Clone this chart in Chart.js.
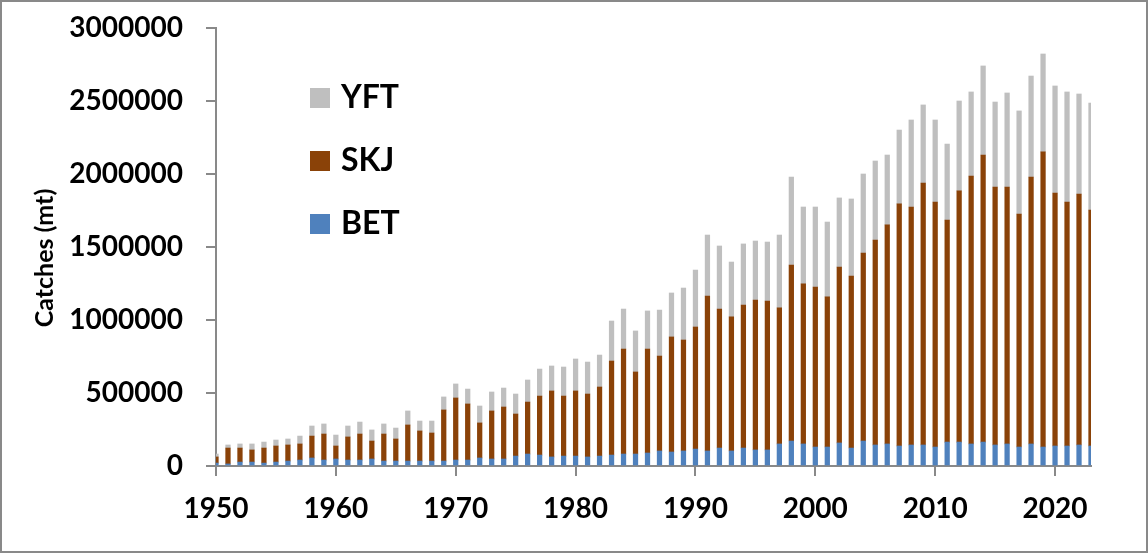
<!DOCTYPE html>
<html>
<head>
<meta charset="utf-8">
<script src="https://cdn.jsdelivr.net/npm/chart.js@4.4.1/dist/chart.umd.min.js"></script>
<style>
  html, body { margin: 0; padding: 0; background: #fff; }
  #wrap { position: relative; width: 1148px; height: 553px; }
</style>
</head>
<body>
<div id="wrap"><canvas id="catchChart"></canvas></div>
<script>
// Catches by species, 1950-2023 (mt)
var years = [1950, 1951, 1952, 1953, 1954, 1955, 1956, 1957, 1958, 1959,
             1960, 1961, 1962, 1963, 1964, 1965, 1966, 1967, 1968, 1969,
             1970, 1971, 1972, 1973, 1974, 1975, 1976, 1977, 1978, 1979,
             1980, 1981, 1982, 1983, 1984, 1985, 1986, 1987, 1988, 1989,
             1990, 1991, 1992, 1993, 1994, 1995, 1996, 1997, 1998, 1999,
             2000, 2001, 2002, 2003, 2004, 2005, 2006, 2007, 2008, 2009,
             2010, 2011, 2012, 2013, 2014, 2015, 2016, 2017, 2018, 2019,
             2020, 2021, 2022, 2023];

var bet = [20000, 14000, 27000, 27000, 20000, 27000, 34000, 41000, 55000, 41000,
           48000, 41000, 41000, 48000, 34000, 34000, 34000, 34000, 34000, 34000,
           41000, 41000, 55000, 48000, 48000, 68000, 82000, 75000, 62000, 68000,
           68000, 62000, 68000, 75000, 82000, 82000, 89000, 103000, 96000, 103000,
           116000, 103000, 123000, 103000, 123000, 110000, 110000, 151000, 171000, 151000,
           130000, 130000, 158000, 123000, 171000, 144000, 151000, 137000, 144000, 144000,
           130000, 164000, 164000, 151000, 164000, 144000, 151000, 130000, 151000, 130000,
           137000, 137000, 144000, 137000];

var skj = [42000, 109000, 96000, 83000, 103000, 110000, 110000, 110000, 150000, 178000,
           89000, 158000, 178000, 123000, 185000, 151000, 247000, 206000, 192000, 350000,
           425000, 384000, 240000, 329000, 356000, 288000, 356000, 404000, 452000, 411000,
           446000, 431000, 473000, 644000, 719000, 562000, 712000, 650000, 788000, 760000,
           836000, 1061000, 952000, 918000, 980000, 1027000, 1020000, 932000, 1206000, 1096000,
           1096000, 1028000, 1205000, 1178000, 1288000, 1404000, 1500000, 1658000, 1630000, 1794000,
           1678000, 1521000, 1720000, 1835000, 1966000, 1767000, 1760000, 1596000, 1828000, 2021000,
           1733000, 1671000, 1719000, 1616000];

var yft = [20000, 21000, 28000, 41000, 41000, 41000, 41000, 54000, 69000, 69000,
           75000, 75000, 82000, 76000, 69000, 75000, 96000, 68000, 82000, 89000,
           96000, 102000, 116000, 130000, 130000, 137000, 151000, 185000, 171000, 199000,
           219000, 219000, 219000, 274000, 274000, 281000, 261000, 315000, 301000, 356000,
           390000, 418000, 432000, 376000, 418000, 404000, 404000, 499000, 602000, 527000,
           548000, 513000, 473000, 528000, 541000, 541000, 479000, 506000, 596000, 535000,
           562000, 520000, 616000, 576000, 610000, 582000, 644000, 706000, 692000, 671000,
           733000, 754000, 685000, 733000];

var yMin = 0;
var yMax = 3000000;
var yStep = 500000;

var axisGray = '#898989';
var fontFamily = 'Lato, "Noto Sans", sans-serif';

// frame, custom legend and the axis title
var decorPlugin = {
    id: 'decor',
    beforeDraw: function (chart) {
        var ctx = chart.ctx;
        ctx.save();
        ctx.fillStyle = '#fff';
        ctx.fillRect(0, 0, chart.width, chart.height);
        ctx.strokeStyle = axisGray;
        ctx.lineWidth = 2;
        ctx.strokeRect(1, 1, chart.width - 2, chart.height - 2);
        ctx.restore();
    },
    afterDraw: function (chart) {
        var ctx = chart.ctx;
        var area = chart.chartArea;
        ctx.save();

        // legend, top item is the top of the stack
        var sets = chart.data.datasets.slice().reverse();
        ctx.font = 'bold 32px ' + fontFamily;
        ctx.textBaseline = 'middle';
        ctx.textAlign = 'left';
        for (var i = 0; i < sets.length; i++) {
            var cy = area.top + 70 + i * 63;
            ctx.fillStyle = sets[i].backgroundColor;
            ctx.fillRect(area.left + 94, cy - 10, 20, 20);
            ctx.fillStyle = '#000';
            ctx.fillText(sets[i].label, area.left + 125, cy);
        }

        // y axis title
        ctx.translate(45, (area.top + area.bottom) / 2 + 11);
        ctx.rotate(-Math.PI / 2);
        ctx.font = 'bold 25px ' + fontFamily;
        ctx.textAlign = 'center';
        ctx.fillText('Catches (mt)', 0, 0);
        ctx.restore();
    }
};

var ctx = document.getElementById('catchChart').getContext('2d');
var catchChart = new Chart(ctx, {
    type: 'bar',
    data: {
        labels: years,
        datasets: [
            { label: 'BET', data: bet, backgroundColor: '#4F81BD' },
            { label: 'SKJ', data: skj, backgroundColor: '#8A4208' },
            { label: 'YFT', data: yft, backgroundColor: '#BFBFBF' }
        ]
    },
    options: {
        responsive: true,
        maintainAspectRatio: false,
        animation: false,
        barThickness: 4.6,
        layout: {
            padding: { left: 0, top: 28, right: 57, bottom: 0 }
        },
        plugins: {
            legend: { display: false },
            tooltip: { enabled: false }
        },
        scales: {
            x: {
                type: 'category',
                stacked: true,
                offset: false,
                grid: {
                    offset: false,
                    drawOnChartArea: false,
                    tickLength: 10,
                    lineWidth: 2,
                    color: function (c) {
                        return years[c.index] % 10 === 0 ? axisGray : 'rgba(0,0,0,0)';
                    }
                },
                border: { color: axisGray, width: 2 },
                ticks: {
                    autoSkip: false,
                    maxRotation: 0,
                    minRotation: 0,
                    padding: 16,
                    color: '#000',
                    font: { family: fontFamily, size: 28, weight: 'bold' },
                    callback: function (val, index) {
                        return years[index] % 10 === 0 ? String(years[index]) : '';
                    }
                },
                afterFit: function (scale) {
                    scale.height = 87;
                }
            },
            y: {
                stacked: true,
                min: yMin,
                max: yMax,
                grid: {
                    drawOnChartArea: false,
                    tickLength: 10,
                    lineWidth: 2,
                    color: axisGray
                },
                border: { color: axisGray, width: 2 },
                ticks: {
                    stepSize: yStep,
                    padding: 23,
                    color: '#000',
                    font: { family: fontFamily, size: 28, weight: 'bold' },
                    callback: function (value) {
                        return String(value);
                    }
                },
                afterFit: function (scale) {
                    scale.width = 216;
                    // the top label may overhang; let the layout padding decide
                    scale.paddingTop = 0;
                    scale.paddingBottom = 0;
                }
            }
        }
    },
    plugins: [decorPlugin]
});
</script>
</body>
</html>
